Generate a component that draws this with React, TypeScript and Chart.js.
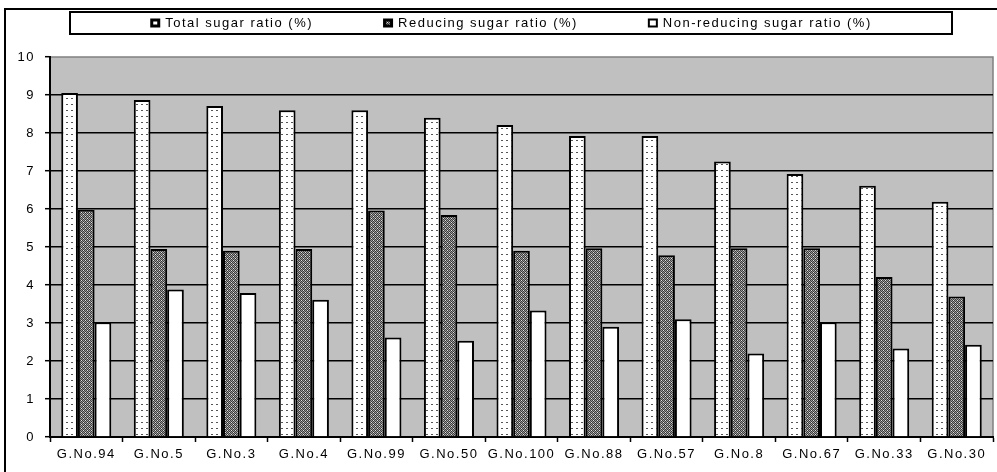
import { useEffect, useRef } from "react";
import { Chart, registerables } from "chart.js";

Chart.register(...registerables);

const categories = [
  "G.No.94", "G.No.5", "G.No.3", "G.No.4", "G.No.99", "G.No.50", "G.No.100",
  "G.No.88", "G.No.57", "G.No.8", "G.No.67", "G.No.33", "G.No.30",
];
const totalSugar = [9.05, 8.87, 8.71, 8.6, 8.6, 8.4, 8.21, 7.92, 7.92, 7.25, 6.92, 6.61, 6.19];
const reducingSugar = [5.98, 4.95, 4.9, 4.95, 5.96, 5.84, 4.9, 4.97, 4.78, 4.97, 4.97, 4.21, 3.7];
const nonReducingSugar = [3.02, 3.88, 3.79, 3.61, 2.62, 2.53, 3.33, 2.9, 3.1, 2.2, 3.02, 2.33, 2.43];
const seriesNames = ["Total sugar ratio (%)", "Reducing sugar ratio (%)", "Non-reducing sugar ratio (%)"];
const yMin = 0;
const yMax = 10;
const yStep = 1;

const FONT = "'Liberation Sans', Arial, sans-serif";
const FONT_SIZE = 13;
const SPACING = "1.5px";

function makeTile(w: number, h: number, draw: (g: CanvasRenderingContext2D) => void) {
  const c = document.createElement("canvas");
  c.width = w;
  c.height = h;
  const g = c.getContext("2d")!;
  draw(g);
  return c;
}

export default function App() {
  const ref = useRef<HTMLCanvasElement | null>(null);

  useEffect(() => {
    const canvas = ref.current!;
    const ctx = canvas.getContext("2d")!;

    // white fill with short grey dashes
    const dottedTile = makeTile(5, 6, (g) => {
      g.fillStyle = "#fff";
      g.fillRect(0, 0, 5, 6);
      g.fillStyle = "#555";
      g.fillRect(1, 2, 2, 1);
    });
    // dense dark checker texture
    const checkTile = makeTile(4, 4, (g) => {
      for (let y = 0; y < 4; y++) {
        for (let x = 0; x < 4; x++) {
          g.fillStyle = (x + y) % 2 === 0 ? "#3a3a3a" : "#9a9a9a";
          g.fillRect(x, y, 1, 1);
        }
      }
      g.fillStyle = "#e0e0e0";
      g.fillRect(1, 0, 1, 1);
      g.fillRect(3, 2, 1, 1);
    });
    const dotted = ctx.createPattern(dottedTile, "repeat")!;
    const checker = ctx.createPattern(checkTile, "repeat")!;
    const fills: (CanvasPattern | string)[] = [dotted, checker, "#ffffff"];

    const decor = {
      id: "decor",
      beforeUpdate(chart: Chart) {
        (chart.ctx as any).letterSpacing = SPACING;
      },
      beforeDraw(chart: Chart) {
        const c = chart.ctx;
        const a = chart.chartArea;
        (c as any).letterSpacing = SPACING;
        c.save();
        c.fillStyle = "#fff";
        c.fillRect(0, 0, chart.width, chart.height);
        c.fillStyle = "#c0c0c0";
        c.fillRect(a.left, a.top, a.right - a.left, a.bottom - a.top);
        c.strokeStyle = "#808080";
        c.lineWidth = 1.5;
        c.beginPath();
        c.moveTo(a.left, a.top);
        c.lineTo(a.right, a.top);
        c.lineTo(a.right, a.bottom);
        c.stroke();
        // outer frame
        c.strokeStyle = "#000";
        c.lineWidth = 2;
        c.beginPath();
        c.moveTo(5, chart.height + 5);
        c.lineTo(5, 9);
        c.lineTo(chart.width + 5, 9);
        c.stroke();
        c.restore();
      },
      afterDraw(chart: Chart) {
        const c = chart.ctx;
        c.save();
        (c as any).letterSpacing = SPACING;
        const boxL = 70, boxR = 952, boxT = 12, boxB = 34;
        c.strokeStyle = "#000";
        c.lineWidth = 2;
        c.strokeRect(boxL, boxT, boxR - boxL, boxB - boxT);
        c.font = `${FONT_SIZE}px ${FONT}`;
        c.textBaseline = "middle";
        c.textAlign = "left";
        const gap = 70, mk = 10, mkGap = 5;
        const widths = seriesNames.map((s) => c.measureText(s).width);
        const total = widths.reduce((s, w) => s + w + mk + mkGap, 0) + gap * (seriesNames.length - 1);
        let x = (boxL + boxR) / 2 - total / 2;
        const cy = (boxT + boxB) / 2 + 0.5;
        seriesNames.forEach((name, i) => {
          c.fillStyle = "#000";
          c.fillRect(x, cy - 5, mk, 9);
          c.fillStyle = fills[i];
          if (i === 2) c.fillRect(x + 2, cy - 3, mk - 4, 5);
          else c.fillRect(x + 3, cy - 2, mk - 6, 3);
          c.fillStyle = "#000";
          c.fillText(name, x + mk + mkGap, cy);
          x += mk + mkGap + widths[i] + gap;
        });
        c.restore();
      },
    };

    const series = [totalSugar, reducingSugar, nonReducingSugar];
    const chart = new Chart(canvas, {
      type: "bar",
      data: {
        labels: categories,
        datasets: series.map((d, i) => ({
          label: seriesNames[i],
          data: d,
          backgroundColor: fills[i] as any,
          borderColor: "#000",
          borderWidth: 2,
          barPercentage: 1,
          categoryPercentage: 0.69,
        })),
      },
      options: {
        responsive: false,
        animation: false,
        layout: { padding: { top: 57, right: 4, left: 0, bottom: 0 } },
        plugins: { legend: { display: false }, tooltip: { enabled: false } },
        scales: {
          x: {
            offset: true,
            grid: { offset: true, drawOnChartArea: false, tickLength: 5, tickColor: "#000", tickWidth: 1.5 },
            border: { color: "#000", width: 2 },
            ticks: {
              color: "#000",
              font: { family: FONT, size: FONT_SIZE },
              padding: 5,
              autoSkip: false,
              maxRotation: 0,
            },
            afterFit: (s: any) => {
              s.height = 35;
            },
          },
          y: {
            min: yMin,
            max: yMax,
            ticks: { stepSize: yStep, color: "#000", font: { family: FONT, size: FONT_SIZE }, padding: 10 },
            grid: {
              color: (g: any) => (g.tick && g.tick.value === yMax ? "rgba(0,0,0,0)" : "#000"),
              lineWidth: 1.4,
              tickLength: 5,
              tickColor: "#000",
              tickWidth: 1.5,
            },
            border: { color: "#000", width: 2 },
            afterFit: (s: any) => {
              s.width = 50;
            },
          },
        },
      },
      plugins: [decor],
    });
    return () => chart.destroy();
  }, []);

  return (
    <div style={{ position: "fixed", left: 0, top: 0, width: 997, height: 472, background: "#fff" }}>
      <canvas ref={ref} width={997} height={472} style={{ display: "block" }} />
    </div>
  );
}
